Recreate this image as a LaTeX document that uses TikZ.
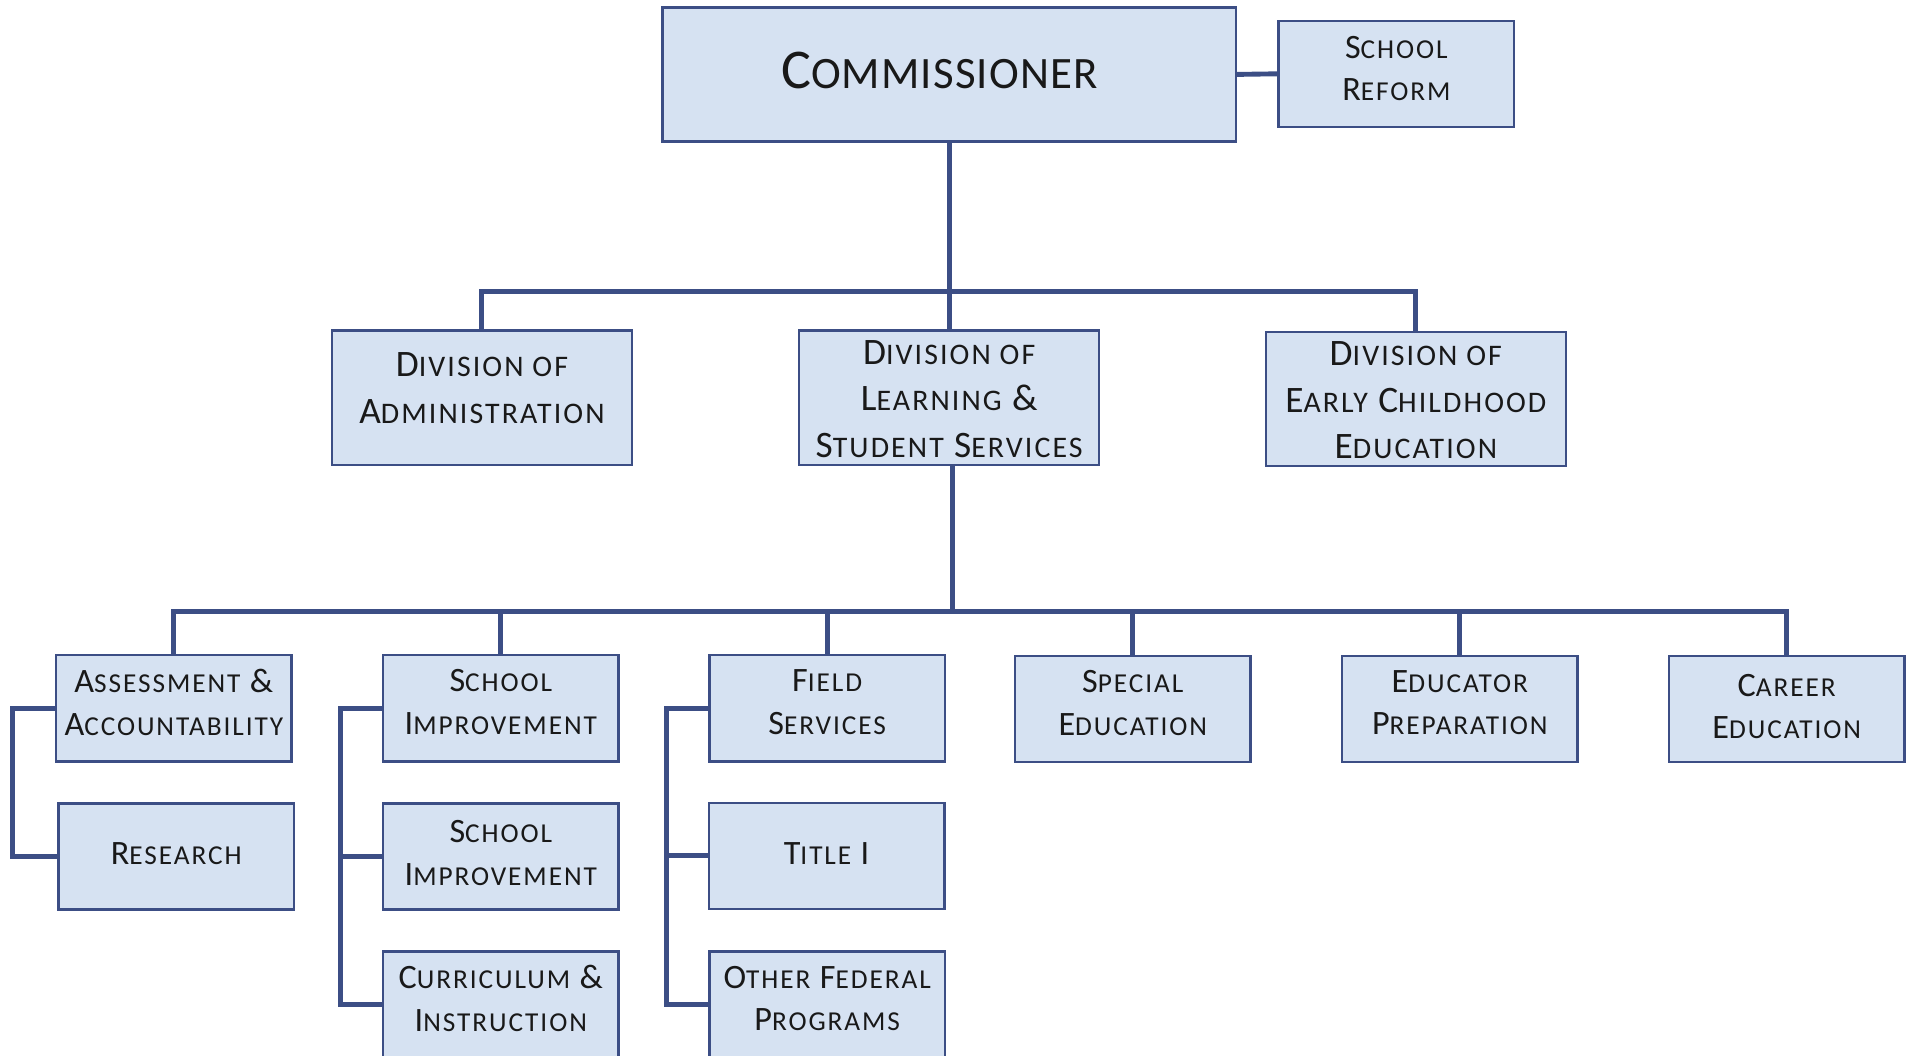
\documentclass[tikz,border=0pt]{standalone}
\usepackage{fontspec}
\setmainfont{Carlito}
\newfontfamily\capf[LetterSpace=5]{Carlito}
\newfontfamily\smf[Scale=0.8,LetterSpace=7]{Carlito}
\newfontfamily\capc[LetterSpace=1.5]{Carlito}
\newfontfamily\smc[Scale=0.8,LetterSpace=2.5]{Carlito}
\let\cursm\smf
\newcommand\sm[1]{{\cursm #1}}
\definecolor{boxfill}{RGB}{214,226,242}
\definecolor{boxline}{RGB}{60,78,133}
\definecolor{txt}{RGB}{25,25,25}
\tikzset{
  orgbox/.style={draw=boxline, fill=boxfill, line width=1pt,
    inner sep=0pt, minimum width=96.5pt, minimum height=43.5pt},
  divbox/.style={orgbox, minimum width=123pt, minimum height=55pt},
  lbl/.style={align=center, inner sep=0pt, text=txt,
    font=\fontsize{14}{17.5}\selectfont\capf},
  divlbl/.style={lbl, font=\fontsize{15.3}{19}\selectfont\capf},
  conn/.style={draw=boxline, line width=2pt, line join=miter}
}
\begin{document}
\begin{tikzpicture}[x=0.5pt, y=-0.5pt]
\useasboundingbox (0,0) rectangle (1568,865);
\clip (0,0) rectangle (1568,865);
% top
\node[orgbox, minimum width=235pt, minimum height=55pt] (comm) at (778,61) {};
\node[lbl, font=\fontsize{23}{28}\selectfont\capc\let\cursm\smc] (commt) at ([xshift=-4pt,yshift=1.5pt]comm.center) {C\sm{OMMISSIONER}};
\node[orgbox] (reform) at (1144.5,60.5) {};
\node[lbl, font=\fontsize{14}{17}\selectfont\capf] (reformt) at ([yshift=2.25pt]reform.center) {S\sm{CHOOL}\\R\sm{EFORM}};
% divisions
\node[divbox] (dadm) at (395,326) {};
\node[divlbl] (dadmt) at ([yshift=4pt]dadm.center) {D\sm{IVISION OF}\\A\sm{DMINISTRATION}};
\node[divbox] (dlss) at (778,326) {};
\node[divlbl] (dlsst) at ([yshift=-0.5pt]dlss.center) {D\sm{IVISION OF}\\L\sm{EARNING} \&\\S\sm{TUDENT} S\sm{ERVICES}};
\node[divbox] (dec) at (1160.5,327) {};
\node[divlbl] (dect) at ([yshift=-0.5pt]dec.center) {D\sm{IVISION OF}\\E\sm{ARLY} C\sm{HILDHOOD}\\E\sm{DUCATION}};
% bottom row
\node[orgbox] (assess) at (142.5,580.5) {};
\node[lbl] (assesst) at ([yshift=2.5pt]assess.center) {A\sm{SSESSMENT} \&\\A\sm{CCOUNTABILITY}};
\node[orgbox] (si1) at (410.5,580.5) {};
\node[lbl] (si1t) at ([yshift=2.5pt]si1.center) {S\sm{CHOOL}\\I\sm{MPROVEMENT}};
\node[orgbox] (fs) at (678,580.5) {};
\node[lbl] (fst) at ([yshift=2.5pt]fs.center) {F\sm{IELD}\\S\sm{ERVICES}};
\node[orgbox] (se) at (928.5,581) {};
\node[lbl] (set) at ([yshift=2.5pt]se.center) {S\sm{PECIAL}\\E\sm{DUCATION}};
\node[orgbox] (ep) at (1196.5,581) {};
\node[lbl] (ept) at ([yshift=2.5pt]ep.center) {E\sm{DUCATOR}\\P\sm{REPARATION}};
\node[orgbox] (ce) at (1464.5,581) {};
\node[lbl] (cet) at ([yshift=1pt]ce.center) {C\sm{AREER}\\E\sm{DUCATION}};
% sub rows
\node[orgbox] (research) at (144.5,702) {};
\node[lbl] (researcht) at ([yshift=1pt]research.center) {R\sm{ESEARCH}};
\node[orgbox] (si2) at (410.5,702) {};
\node[lbl] (si2t) at ([yshift=1.5pt]si2.center) {S\sm{CHOOL}\\I\sm{MPROVEMENT}};
\node[orgbox] (title) at (677.5,701.5) {};
\node[lbl] (titlet) at ([yshift=1pt]title.center) {T\sm{ITLE} I};
\node[orgbox] (curr) at (410.5,823.5) {};
\node[lbl] (currt) at ([yshift=2.5pt]curr.center) {C\sm{URRICULUM} \&\\I\sm{NSTRUCTION}};
\node[orgbox] (ofp) at (678,823.5) {};
\node[lbl] (ofpt) at ([yshift=2.5pt]ofp.center) {O\sm{THER} F\sm{EDERAL}\\P\sm{ROGRAMS}};
% connectors
\coordinate (j1) at (778,239);
\coordinate (j2) at (781,501);
\draw[conn] (comm.east) -- (reform.west);
\draw[conn] (comm.south) -- (dlss.north);
\draw[conn] (dadm.north) |- (j1) -| (dec.north);
\draw[conn] ([xshift=1.5pt]dlss.south) -- (j2);
\draw[conn] (assess.north) |- (j2) -| (ce.north);
\draw[conn] (si1.north) -- (si1.north |- j2);
\draw[conn] (fs.north) -- (fs.north |- j2);
\draw[conn] (se.north) -- (se.north |- j2);
\draw[conn] (ep.north) -- (ep.north |- j2);
\draw[conn] (assess.west) -- ++(-35,0) |- (research.west);
\draw[conn] (si1.west) -- ++(-34,0) |- (curr.west);
\draw[conn] (si2.west) -- ++(-34,0);
\draw[conn] (fs.west) -- ++(-34,0) |- (ofp.west);
\draw[conn] (title.west) -- ++(-33,0);
\end{tikzpicture}
\end{document}
